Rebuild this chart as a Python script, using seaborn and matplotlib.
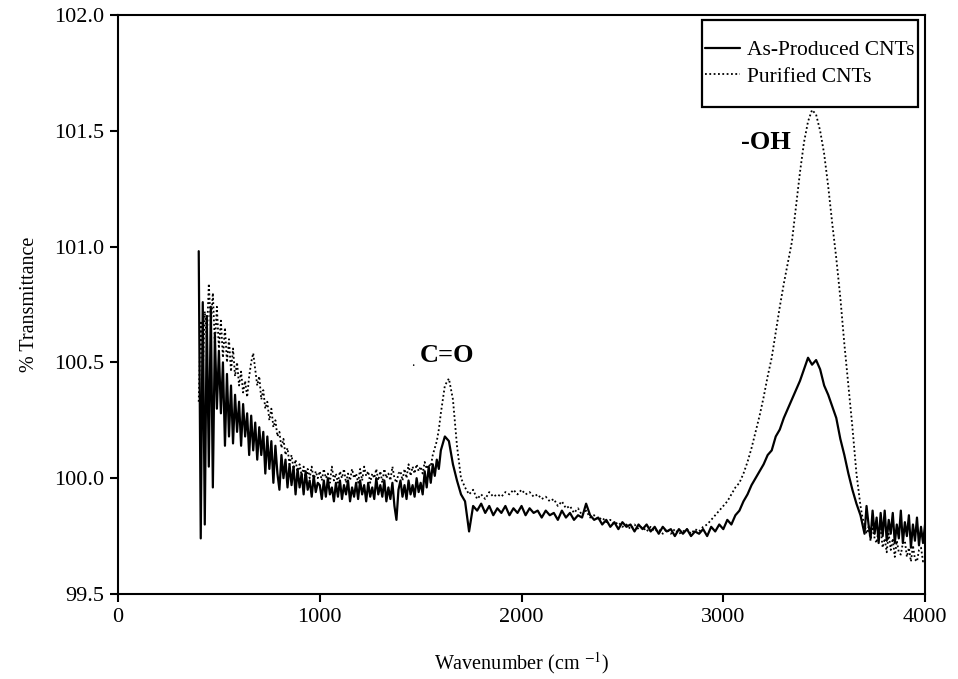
import numpy as np
import pandas as pd
import matplotlib
matplotlib.use("Agg")
import matplotlib.pyplot as plt
import seaborn as sns
from matplotlib.patches import Rectangle

# ---------------- data ----------------
wn_low = list(range(400, 1600, 10))      # 400 ... 1590 cm-1
wn_mid = list(range(1600, 3680, 20))     # 1600 ... 3660 cm-1
wn_high = list(range(3680, 4001, 10))    # 3680 ... 4000 cm-1

as_produced_low = [
    100.98, 99.74, 100.76, 99.80, 100.70, 100.05, 100.74, 99.96, 100.62, 100.30,
    100.55, 100.28, 100.50, 100.14, 100.45, 100.18, 100.40, 100.15, 100.36, 100.20,
    100.33, 100.14, 100.32, 100.18, 100.28, 100.10, 100.27, 100.12, 100.24, 100.08,
    100.22, 100.10, 100.20, 100.02, 100.18, 100.04, 100.16, 99.98, 100.14, 100.02,
    99.95, 100.10, 100.00, 100.08, 99.96, 100.06, 99.97, 100.05, 99.93, 100.04,
    99.96, 100.02, 99.93, 100.03, 99.95, 99.99, 99.92, 100.01, 99.94, 99.98,
    99.97, 99.91, 99.99, 99.92, 100.00, 99.93, 99.96, 99.90, 99.98, 99.92,
    99.99, 99.91, 99.97, 99.93, 99.99, 99.90, 99.96, 99.92, 99.98, 99.91,
    99.99, 99.93, 99.97, 99.90, 99.98, 99.92, 99.96, 99.91, 100.00, 99.93,
    99.97, 99.92, 99.99, 99.90, 99.96, 99.91, 99.98, 99.88, 99.82, 99.95,
    99.99, 99.92, 99.97, 99.91, 99.99, 99.93, 99.97, 99.92, 100.00, 99.94,
    99.98, 99.93, 100.03, 99.96, 100.05, 99.98, 100.06, 100.01, 100.08, 100.04,
]
as_produced_mid = [
    100.12, 100.18, 100.16, 100.06, 99.99, 99.93, 99.90, 99.77, 99.88, 99.86,
    99.89, 99.85, 99.88, 99.84, 99.87, 99.85, 99.88, 99.84, 99.87, 99.85,
    99.88, 99.84, 99.87, 99.85, 99.86, 99.83, 99.86, 99.84, 99.85, 99.82,
    99.86, 99.83, 99.85, 99.82, 99.84, 99.83, 99.89, 99.84, 99.82, 99.83,
    99.80, 99.82, 99.79, 99.81, 99.78, 99.81, 99.79, 99.80, 99.77, 99.80,
    99.78, 99.80, 99.77, 99.79, 99.76, 99.79, 99.77, 99.78, 99.75, 99.78,
    99.76, 99.78, 99.75, 99.77, 99.76, 99.78, 99.75, 99.79, 99.77, 99.80,
    99.78, 99.82, 99.80, 99.84, 99.86, 99.90, 99.93, 99.97, 100.00, 100.03,
    100.06, 100.10, 100.12, 100.18, 100.21, 100.26, 100.30, 100.34, 100.38, 100.42,
    100.47, 100.52, 100.49, 100.51, 100.47, 100.40, 100.36, 100.31, 100.26, 100.17,
    100.10, 100.02, 99.95, 99.89,
]
as_produced_high = [
    99.84, 99.80, 99.76, 99.88, 99.80, 99.74, 99.86, 99.76, 99.83, 99.72,
    99.85, 99.75, 99.86, 99.73, 99.82, 99.76, 99.85, 99.72, 99.80, 99.74,
    99.86, 99.72, 99.81, 99.75, 99.84, 99.70, 99.80, 99.73, 99.83, 99.71,
    99.79, 99.72, 99.80,
]

purified_low = [
    100.33, 100.68, 100.45, 100.72, 100.60, 100.84, 100.66, 100.80, 100.58, 100.74,
    100.56, 100.68, 100.52, 100.65, 100.50, 100.60, 100.46, 100.56, 100.44, 100.50,
    100.40, 100.46, 100.37, 100.42, 100.35, 100.44, 100.50, 100.54, 100.47, 100.40,
    100.44, 100.34, 100.38, 100.30, 100.33, 100.25, 100.30, 100.22, 100.25, 100.18,
    100.20, 100.13, 100.17, 100.10, 100.13, 100.06, 100.10, 100.04, 100.08, 100.02,
    100.06, 100.01, 100.05, 99.99, 100.04, 100.00, 100.05, 99.99, 100.03, 100.00,
    100.03, 99.99, 100.04, 100.00, 100.02, 99.98, 100.05, 99.99, 100.02, 99.98,
    100.03, 100.00, 100.04, 99.98, 100.02, 99.99, 100.04, 100.00, 100.02, 99.98,
    100.04, 99.99, 100.05, 100.01, 100.03, 99.98, 100.02, 100.00, 100.04, 99.99,
    100.03, 99.98, 100.04, 100.00, 100.02, 99.99, 100.05, 100.00, 99.98, 100.02,
    100.03, 99.99, 100.04, 100.00, 100.06, 100.01, 100.05, 100.02, 100.06, 100.03,
    100.05, 100.02, 100.07, 100.04, 100.06, 100.05, 100.10, 100.13, 100.16, 100.21,
]
purified_mid = [
    100.28, 100.40, 100.43, 100.34, 100.14, 100.00, 99.96, 99.93, 99.95, 99.91,
    99.93, 99.91, 99.94, 99.92, 99.93, 99.92, 99.94, 99.93, 99.95, 99.93,
    99.95, 99.93, 99.94, 99.92, 99.93, 99.91, 99.92, 99.90, 99.91, 99.88,
    99.90, 99.87, 99.88, 99.85, 99.87, 99.84, 99.86, 99.83, 99.84, 99.82,
    99.83, 99.81, 99.82, 99.80, 99.81, 99.79, 99.80, 99.78, 99.80, 99.78,
    99.79, 99.77, 99.79, 99.77, 99.78, 99.76, 99.78, 99.76, 99.78, 99.76,
    99.77, 99.78, 99.76, 99.78, 99.77, 99.79, 99.80, 99.82, 99.84, 99.86,
    99.88, 99.90, 99.93, 99.96, 99.98, 100.02, 100.07, 100.13, 100.20, 100.27,
    100.35, 100.44, 100.52, 100.63, 100.74, 100.84, 100.93, 101.02, 101.17, 101.32,
    101.45, 101.54, 101.59, 101.57, 101.50, 101.40, 101.26, 101.10, 100.95, 100.78,
    100.58, 100.40, 100.22, 100.02,
]
purified_high = [
    99.88, 99.83, 99.80, 99.76, 99.79, 99.73, 99.80, 99.74, 99.72, 99.78,
    99.78, 99.70, 99.74, 99.68, 99.76, 99.69, 99.74, 99.66, 99.73, 99.68,
    99.67, 99.72, 99.73, 99.66, 99.70, 99.64, 99.71, 99.65, 99.64, 99.69,
    99.70, 99.64, 99.65,
]

series_names = ["As-Produced CNTs", "Purified CNTs"]
x_ticks = [0, 1000, 2000, 3000, 4000]
y_ticks = [99.5, 100.0, 100.5, 101.0, 101.5, 102.0]

# ---------------- build table ----------------
wn = wn_low + wn_mid + wn_high
as_produced = as_produced_low + as_produced_mid + as_produced_high
purified = purified_low + purified_mid + purified_high
assert len(wn) == len(as_produced) == len(purified)

df = pd.concat([
    pd.DataFrame({"wavenumber": wn, "T": as_produced, "sample": series_names[0]}),
    pd.DataFrame({"wavenumber": wn, "T": purified, "sample": series_names[1]}),
], ignore_index=True)

# ---------------- plot ----------------
sns.set_style("ticks")
plt.rcParams["font.family"] = ["Liberation Serif", "DejaVu Serif"]
plt.rcParams["mathtext.fontset"] = "stix"
for k in ["text.color", "axes.labelcolor", "xtick.color", "ytick.color",
          "axes.edgecolor"]:
    plt.rcParams[k] = "black"

fig = plt.figure(figsize=(9.58, 6.79), dpi=100)
ax = fig.add_axes([0.1232, 0.1252, 0.8424, 0.8528])

sns.lineplot(data=df[df["sample"] == series_names[1]], x="wavenumber", y="T",
             ax=ax, color="black", lw=1.3, sort=False, estimator=None,
             linestyle=(0, (1, 1.4)), legend=False)
sns.lineplot(data=df[df["sample"] == series_names[0]], x="wavenumber", y="T",
             ax=ax, color="black", lw=1.6, sort=False, estimator=None,
             legend=False)
l_pur, l_as = ax.lines[0], ax.lines[1]

ax.set_xlim(0, 4000)
ax.set_ylim(99.5, 102.0)
ax.set_xticks(x_ticks)
ax.set_yticks(y_ticks)
ax.set_yticklabels([f"{v:.1f}" for v in y_ticks])
ax.tick_params(direction="out", length=6, width=1.5, labelsize=16,
               colors="black", pad=4)
for s in ax.spines.values():
    s.set_linewidth(1.5)
    s.set_color("black")
    s.set_visible(True)

ax.set_xlabel("Wavenumber (cm $^{-1}$)", fontsize=14.5, labelpad=17,
              color="black")
ax.set_ylabel("% Transmittance", fontsize=14.5, labelpad=11, color="black")

# annotations
ax.text(1632, 100.53, "C=O", fontsize=19, fontweight="bold",
        ha="center", va="center", color="black")
ax.text(1462, 100.485, ".", fontsize=10, ha="center", va="baseline",
        color="black")
ax.text(3212, 101.45, "-OH", fontsize=19, fontweight="bold",
        ha="center", va="center", color="black")

# legend with box
ax.add_patch(Rectangle((0.7237, 0.841), 0.2676, 0.1504, transform=ax.transAxes,
                       facecolor="white", edgecolor="black", lw=1.6, zorder=5))
leg = ax.legend([l_as, l_pur], series_names, loc="center",
                bbox_to_anchor=(0.8575, 0.916), frameon=False, fontsize=15.5,
                handlelength=1.6, handletextpad=0.35, labelspacing=0.3)
for t in leg.get_texts():
    t.set_color("black")
leg.set_zorder(6)

fig.savefig("out.png", dpi=100, facecolor="white")
